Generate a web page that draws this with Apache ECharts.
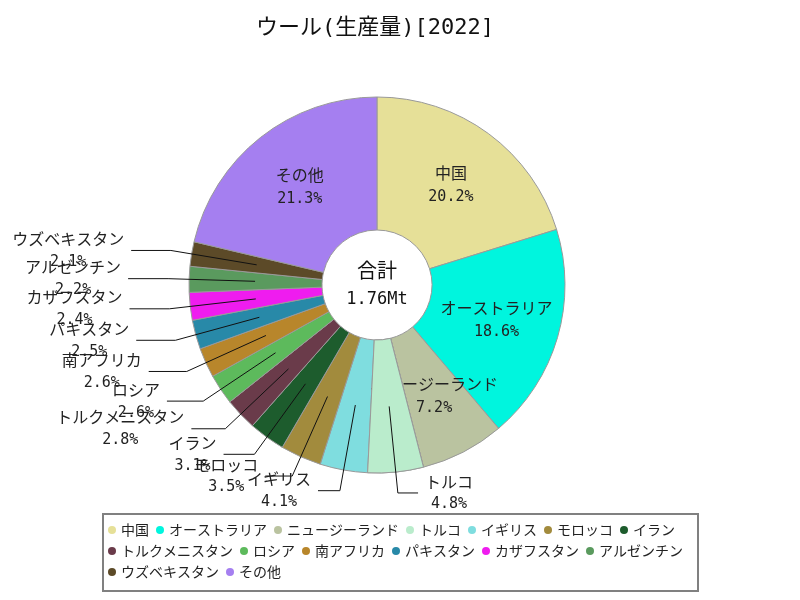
<!DOCTYPE html>
<html><head><meta charset="utf-8">
<script src="https://cdn.jsdelivr.net/npm/echarts@6/dist/echarts.min.js"></script>
<style>html,body{margin:0;padding:0;background:#fff}#c{width:800px;height:600px}</style>
</head><body><div id="c"></div>
<script>
const titleText = 'ウール(生産量)[2022]';
const categories = ['中国','オーストラリア','ニュージーランド','トルコ','イギリス','モロッコ','イラン','トルクメニスタン','ロシア','南アフリカ','パキスタン','カザフスタン','アルゼンチン','ウズベキスタン','その他'];
// production, thousand tonnes
const values = [356, 327, 127, 84, 72, 62, 55, 49, 46, 45, 44, 42, 39, 37, 375];
const colors = ['#e6e098','#00f5de','#bac3a0','#baeccc','#7fdddf','#a28b3d','#1d5c2d','#6a3b4a','#5dba5c','#b8862b','#2889a8','#ef1cef','#5a9a5e','#5c4a28','#a57ff0'];
const coverName = 'トルコ';

const CENTER = [377, 285];
const total = values.reduce((a, b) => a + b, 0);
const pct = v => (v / total * 100);
const CJK = "'Noto Sans CJK JP', 'Noto Sans', sans-serif";
const MONO = "'DejaVu Sans Mono', 'Noto Sans CJK JP', monospace";

const mainData = categories.map((n, i) => {
  const inside = pct(values[i]) >= 5;
  return {
    name: n, value: values[i],
    itemStyle: { color: colors[i] },
    label: { show: inside }
  };
});
const coverData = categories.map((n, i) => ({
  name: n, value: values[i],
  itemStyle: n === coverName ? { color: colors[i], borderColor: '#999', borderWidth: 1 } : { color: 'rgba(0,0,0,0)', borderWidth: 0 }
}));
const outerData = categories.map((n, i) => {
  const inside = pct(values[i]) >= 5;
  return {
    name: n, value: values[i],
    itemStyle: { color: 'rgba(0,0,0,0)', borderWidth: 0 },
    label: { show: !inside },
    labelLine: { show: !inside }
  };
});

const fmt = p => '{n|' + p.name + '}\n{p|' + pct(p.value).toFixed(1) + '%}';
const rich = {
  n: { fontFamily: CJK, fontSize: 16, color: '#222', align: 'center', lineHeight: 23 },
  p: { fontFamily: MONO, fontSize: 15, color: '#222', align: 'center', lineHeight: 23 }
};

// leader line: horizontal tail grows with horizontal offset of the elbow
function outerLayout(params) {
  const pts = params.labelLinePoints;
  if (!pts || pts.length < 2) return { hideOverlap: false };
  const p0 = pts[0], p1 = pts[1];
  const dx = p1[0] - CENTER[0], dy = p1[1] - CENTER[1];
  const r = Math.sqrt(dx * dx + dy * dy) || 1;
  const sign = dx < 0 ? -1 : 1;
  const len = 18 + 22 * Math.abs(dx) / r;
  const p2 = [p1[0] + sign * len, p1[1]];
  return {
    hideOverlap: false,
    labelLinePoints: [p0, p1, p2],
    x: p2[0] + sign * 7,
    y: p1[1],
    align: sign < 0 ? 'right' : 'left',
    verticalAlign: 'middle'
  };
}

const chart = echarts.init(document.getElementById('c'));
chart.setOption({
  animation: false,
  title: {
    text: titleText, left: 251, top: 12,
    textStyle: { fontFamily: MONO, fontSize: 22, fontWeight: 'normal', color: '#111' }
  },
  legend: {
    data: categories,
    left: 103, top: 514, width: 590,
    padding: [9, 15, 12, 5],
    borderColor: '#808080', borderWidth: 2,
    icon: 'circle', itemWidth: 8, itemHeight: 8, itemGap: 7,
    itemStyle: { borderWidth: 0 },
    textStyle: { fontFamily: CJK, fontSize: 14, color: '#222' }
  },
  graphic: [
    { type: 'text', style: { x: CENTER[0], y: 270, text: '合計', fontFamily: CJK, fontSize: 20, fill: '#111', align: 'center', verticalAlign: 'middle' } },
    { type: 'text', style: { x: CENTER[0], y: 300, text: (total / 1000).toFixed(2) + 'Mt', fontFamily: MONO, fontSize: 17, fill: '#111', align: 'center', verticalAlign: 'middle' } }
  ],
  series: [
    {
      type: 'pie', z: 2, center: CENTER, radius: [55, 188],
      startAngle: 90, clockwise: true, avoidLabelOverlap: false,
      itemStyle: { borderColor: '#999', borderWidth: 1 },
      label: { position: 'inside', formatter: fmt, rich: {
        n: Object.assign({}, rich.n, { lineHeight: 24 }),
        p: Object.assign({}, rich.p, { lineHeight: 24 })
      } },
      labelLine: { show: false },
      labelLayout: { hideOverlap: false },
      emphasis: { disabled: true },
      data: mainData
    },
    {
      type: 'pie', z: 3, center: CENTER, radius: [55, 188], silent: true,
      startAngle: 90, clockwise: true,
      label: { show: false }, labelLine: { show: false },
      emphasis: { disabled: true },
      data: coverData
    },
    {
      type: 'pie', z: 4, center: CENTER, radius: [0, 122], silent: true,
      startAngle: 90, clockwise: true, avoidLabelOverlap: false,
      label: { position: 'outside', formatter: fmt, rich: rich },
      labelLine: { length: 87, length2: 30, lineStyle: { color: '#111', width: 1 } },
      labelLayout: outerLayout,
      emphasis: { disabled: true },
      data: outerData
    }
  ]
});
</script>
</body></html>
